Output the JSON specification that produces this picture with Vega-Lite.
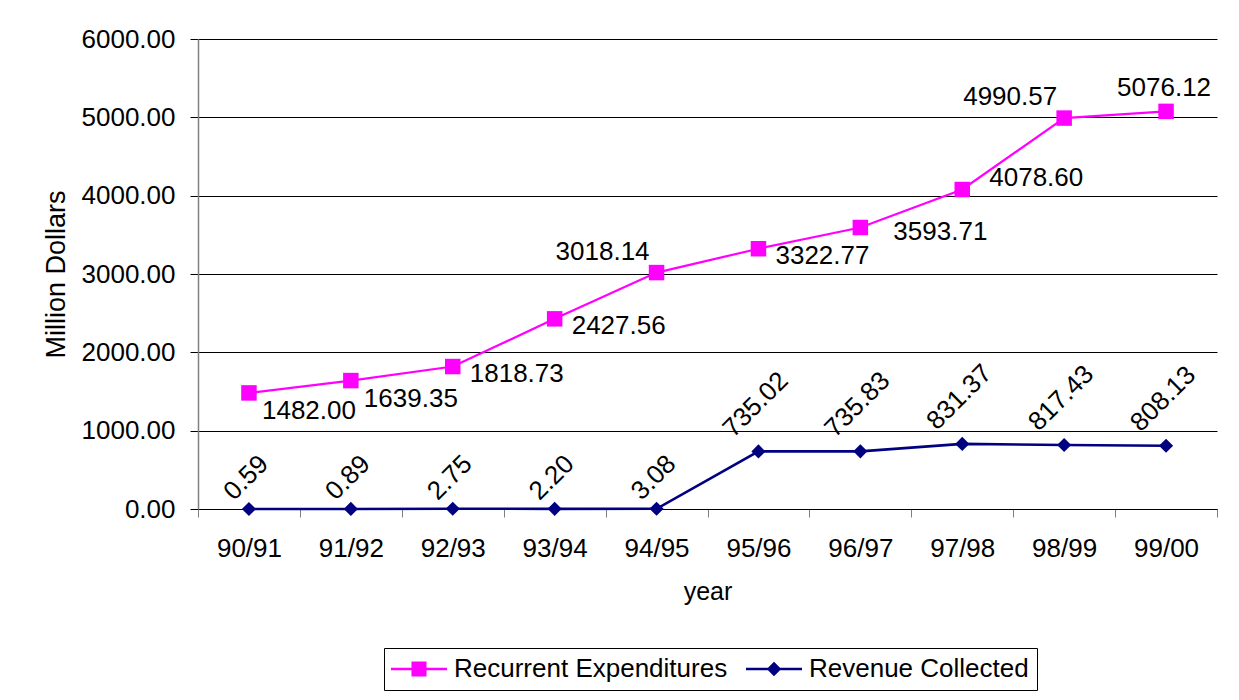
{
  "$schema": "https://vega.github.io/schema/vega-lite/v6.json",
  "autosize": {"type": "none"},
  "padding": {"left": 198, "top": 39, "right": 22, "bottom": 191},
  "width": 1019,
  "height": 470,
  "background": "white",
  "config": {
    "font": "Liberation Sans",
    "view": {"stroke": null},
    "axis": {"labelColor": "black", "titleColor": "black", "titleFontWeight": "normal", "labelFont": "Liberation Sans", "titleFont": "Liberation Sans"},
    "legend": {"labelFont": "Liberation Sans", "labelFontSize": 26, "labelColor": "black", "labelLimit": 0, "symbolSize": 676, "symbolStrokeWidth": 0, "symbolOpacity": 1, "symbolOffset": 14, "labelOffset": 22, "columnPadding": 17, "padding": 8, "strokeColor": "black", "fillColor": "white", "direction": "horizontal"}
  },
  "data": {"values": [
    {"year": "90/91", "series": "Recurrent Expenditures", "value": 1482.00},
    {"year": "91/92", "series": "Recurrent Expenditures", "value": 1639.35},
    {"year": "92/93", "series": "Recurrent Expenditures", "value": 1818.73},
    {"year": "93/94", "series": "Recurrent Expenditures", "value": 2427.56},
    {"year": "94/95", "series": "Recurrent Expenditures", "value": 3018.14},
    {"year": "95/96", "series": "Recurrent Expenditures", "value": 3322.77},
    {"year": "96/97", "series": "Recurrent Expenditures", "value": 3593.71},
    {"year": "97/98", "series": "Recurrent Expenditures", "value": 4078.60},
    {"year": "98/99", "series": "Recurrent Expenditures", "value": 4990.57},
    {"year": "99/00", "series": "Recurrent Expenditures", "value": 5076.12},
    {"year": "90/91", "series": "Revenue Collected", "value": 0.59},
    {"year": "91/92", "series": "Revenue Collected", "value": 0.89},
    {"year": "92/93", "series": "Revenue Collected", "value": 2.75},
    {"year": "93/94", "series": "Revenue Collected", "value": 2.20},
    {"year": "94/95", "series": "Revenue Collected", "value": 3.08},
    {"year": "95/96", "series": "Revenue Collected", "value": 735.02},
    {"year": "96/97", "series": "Revenue Collected", "value": 735.83},
    {"year": "97/98", "series": "Revenue Collected", "value": 831.37},
    {"year": "98/99", "series": "Revenue Collected", "value": 817.43},
    {"year": "99/00", "series": "Revenue Collected", "value": 808.13}
  ]},
  "encoding": {
    "x": {"field": "year", "type": "ordinal",
      "scale": {"type": "band", "paddingInner": 0, "paddingOuter": 0, "domain": ["90/91","91/92","92/93","93/94","94/95","95/96","96/97","97/98","98/99","99/00"]},
      "axis": {"title": "year", "labelAngle": 0, "tickBand": "extent", "grid": false, "labelFontSize": 26, "titleFontSize": 25, "labelPadding": 18, "titlePadding": 18, "tickSize": 8, "tickColor": "#808080", "domainColor": "black", "domainWidth": 1}},
    "y": {"field": "value", "type": "quantitative",
      "scale": {"domain": [0, 6000], "nice": false},
      "axis": {"title": "Million Dollars", "values": [0,1000,2000,3000,4000,5000,6000], "format": ".2f", "grid": true, "gridColor": "black", "gridWidth": 1, "gridOpacity": 1, "labelFontSize": 26, "titleFontSize": 27, "labelPadding": 15, "titlePadding": 11, "tickSize": 8, "tickColor": "black", "domainColor": "#808080", "domainWidth": 1.5}}
  },
  "layer": [
    {"transform": [{"filter": "datum.series === 'Recurrent Expenditures'"}], "mark": {"type": "line", "color": "#FF00FF", "strokeWidth": 2.2}},
    {"transform": [{"filter": "datum.series === 'Revenue Collected'"}], "mark": {"type": "line", "color": "#000080", "strokeWidth": 2.6}},
    {"transform": [{"filter": "datum.series === 'Recurrent Expenditures'"}], "mark": {"type": "point", "shape": "square", "filled": true, "color": "#FF00FF", "size": 240, "opacity": 1}},
    {"transform": [{"filter": "datum.series === 'Revenue Collected'"}], "mark": {"type": "point", "shape": "diamond", "filled": true, "color": "#000080", "size": 200, "opacity": 1}},
    {"mark": {"type": "point", "filled": true, "opacity": 0},
     "encoding": {
       "color": {"field": "series", "type": "nominal", "scale": {"domain": ["Recurrent Expenditures", "Revenue Collected"], "range": ["#FF00FF", "#000080"]}, "legend": {"title": null, "orient": "none", "legendX": 186, "legendY": 609, "direction": "horizontal"}},
       "shape": {"field": "series", "type": "nominal", "scale": {"domain": ["Recurrent Expenditures", "Revenue Collected"], "range": ["M-2.154,-0.09H2.154V0.09H-2.154Z M-0.58,-0.58H0.58V0.58H-0.58Z", "M-2.154,-0.09H2.154V0.09H-2.154Z M0,-0.56L0.56,0L0,0.56L-0.56,0Z"]}, "legend": {"title": null, "orient": "none", "legendX": 186, "legendY": 609, "direction": "horizontal"}}
     }},
    {"transform": [{"filter": "datum.series === 'Recurrent Expenditures' && indexof(['90/91','91/92'], datum.year) >= 0"}],
     "mark": {"type": "text", "fontSize": 26, "color": "black", "align": "center", "baseline": "middle", "dx": 60, "dy": 18},
     "encoding": {"text": {"field": "value", "type": "quantitative", "format": ".2f"}}},
    {"transform": [{"filter": "datum.series === 'Recurrent Expenditures' && indexof(['92/93','93/94','95/96'], datum.year) >= 0"}],
     "mark": {"type": "text", "fontSize": 26, "color": "black", "align": "center", "baseline": "middle", "dx": 64, "dy": 7},
     "encoding": {"text": {"field": "value", "type": "quantitative", "format": ".2f"}}},
    {"transform": [{"filter": "datum.series === 'Recurrent Expenditures' && datum.year === '96/97'"}],
     "mark": {"type": "text", "fontSize": 26, "color": "black", "align": "center", "baseline": "middle", "dx": 80, "dy": 5},
     "encoding": {"text": {"field": "value", "type": "quantitative", "format": ".2f"}}},
    {"transform": [{"filter": "datum.series === 'Recurrent Expenditures' && datum.year === '97/98'"}],
     "mark": {"type": "text", "fontSize": 26, "color": "black", "align": "center", "baseline": "middle", "dx": 74, "dy": -12},
     "encoding": {"text": {"field": "value", "type": "quantitative", "format": ".2f"}}},
    {"transform": [{"filter": "datum.series === 'Recurrent Expenditures' && indexof(['94/95','98/99'], datum.year) >= 0"}],
     "mark": {"type": "text", "fontSize": 26, "color": "black", "align": "center", "baseline": "middle", "dx": -54, "dy": -21},
     "encoding": {"text": {"field": "value", "type": "quantitative", "format": ".2f"}}},
    {"transform": [{"filter": "datum.series === 'Recurrent Expenditures' && datum.year === '99/00'"}],
     "mark": {"type": "text", "fontSize": 26, "color": "black", "align": "center", "baseline": "middle", "dx": -2, "dy": -23},
     "encoding": {"text": {"field": "value", "type": "quantitative", "format": ".2f"}}},
    {"transform": [{"filter": "datum.series === 'Revenue Collected' && indexof(['90/91','91/92','92/93','93/94','94/95'], datum.year) >= 0"}],
     "mark": {"type": "text", "fontSize": 26, "color": "black", "align": "center", "baseline": "middle", "angle": 315, "dx": 20, "dy": -24},
     "encoding": {"text": {"field": "value", "type": "quantitative", "format": ".2f"}}},
    {"transform": [{"filter": "datum.series === 'Revenue Collected' && indexof(['95/96','96/97','97/98','98/99','99/00'], datum.year) >= 0"}],
     "mark": {"type": "text", "fontSize": 26, "color": "black", "align": "center", "baseline": "middle", "angle": 315, "dx": 31, "dy": -35},
     "encoding": {"text": {"field": "value", "type": "quantitative", "format": ".2f"}}}
  ]
}
